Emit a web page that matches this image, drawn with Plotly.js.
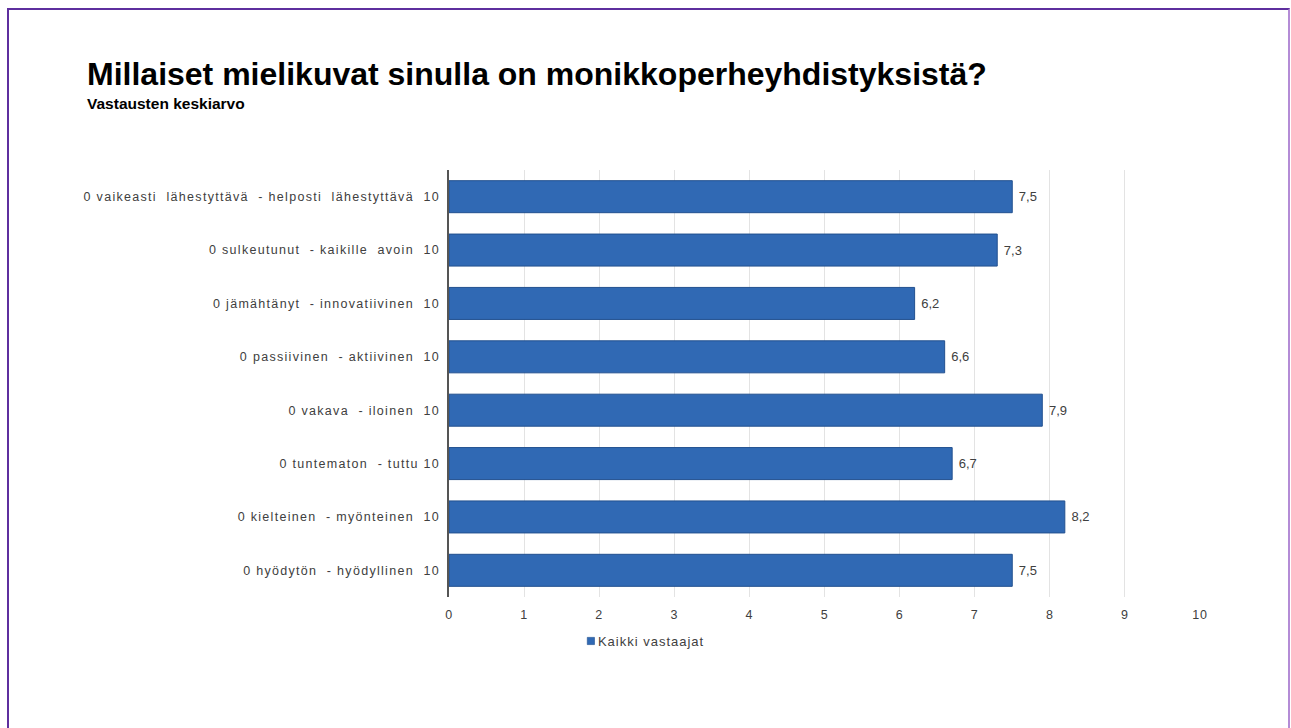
<!DOCTYPE html>
<html>
<head>
<meta charset="utf-8">
<script src="https://cdn.plot.ly/plotly-3.0.1.min.js"></script>
<style>
  html, body { margin: 0; padding: 0; background: #fff; overflow: hidden; }
  #chart { position: absolute; left: 0; top: 0; width: 1291px; height: 728px; }
  #frame { position: absolute; left: 7px; top: 8px; width: 1279px; height: 740px;
           border-top: 2px solid #5E2F9E; border-left: 2px solid #5E2F9E; border-right: 2px solid #B48CD6;
           pointer-events: none; }
  .ytick text { letter-spacing: 1.3px; }
  .xtick text { letter-spacing: 0.8px; }
  .legendtext { letter-spacing: 1px; }
  .textpoint text { letter-spacing: 1px; }
  .legend .legendpoints path { transform: translate(33px, 0px) scale(0.6); }
</style>
</head>
<body>
<div id="chart"></div>
<div id="frame"></div>
<script>
const categories = [
  "0 vaikeasti\u00a0 lähestyttävä\u00a0 - helposti\u00a0 lähestyttävä\u00a0 10",
  "0 sulkeutunut\u00a0 - kaikille\u00a0 avoin\u00a0 10",
  "0 jämähtänyt\u00a0 - innovatiivinen\u00a0 10",
  "0 passiivinen\u00a0 - aktiivinen\u00a0 10",
  "0 vakava\u00a0 - iloinen\u00a0 10",
  "0 tuntematon\u00a0 - tuttu 10",
  "0 kielteinen\u00a0 - myönteinen\u00a0 10",
  "0 hyödytön\u00a0 - hyödyllinen\u00a0 10"
];
const values = [7.5, 7.3, 6.2, 6.6, 7.9, 6.7, 8.2, 7.5];
const seriesName = "Kaikki vastaajat";
const titleText = "Millaiset mielikuvat sinulla on monikkoperheyhdistyksistä?";
const subtitleText = "Vastausten keskiarvo";

const trace = {
  type: "bar",
  orientation: "h",
  y: categories,
  x: values,
  name: seriesName,
  width: 0.6,
  marker: { color: "#3069B4", line: { color: "#22508F", width: 1 } },
  texttemplate: "\u00a0%{x:.1f}",
  textposition: "outside",
  cliponaxis: false,
  textfont: { family: "Liberation Sans, Arial, sans-serif", size: 13, color: "#404040" },
  showlegend: true,
  hoverinfo: "x+y"
};

const layout = {
  width: 1291,
  height: 728,
  margin: { l: 449, r: 91, t: 170, b: 131 },
  paper_bgcolor: "#ffffff",
  plot_bgcolor: "#ffffff",
  separators: ", ",
  font: { family: "Liberation Sans, Arial, sans-serif", size: 12, color: "#404040" },
  xaxis: {
    range: [0, 10],
    dtick: 1,
    tick0: 0,
    showgrid: true,
    gridcolor: "#e3e3e3",
    gridwidth: 1,
    zeroline: false,
    showline: false,
    ticks: "",
    ticklabelstandoff: 8,
    tickfont: { size: 12.5, color: "#404040" },
    fixedrange: true
  },
  yaxis: {
    autorange: "reversed",
    showline: true,
    linecolor: "#555555",
    linewidth: 1.5,
    ticks: "",
    showgrid: false,
    ticksuffix: " ",
    tickfont: { size: 12.5, color: "#404040" },
    fixedrange: true
  },
  showlegend: true,
  legend: {
    orientation: "h",
    x: 0.145, xanchor: "left",
    y: -0.068, yanchor: "top",
    font: { size: 13, color: "#404040" },
    bgcolor: "rgba(0,0,0,0)"
  },
  annotations: [
    {
      text: "<b>" + titleText + "</b>",
      xref: "paper", yref: "paper",
      x: -0.4847, y: 1.224,
      xanchor: "left", yanchor: "middle",
      showarrow: false,
      font: { family: "Liberation Sans, Arial, sans-serif", size: 32, color: "#000000" }
    },
    {
      text: "<b>" + subtitleText + "</b>",
      xref: "paper", yref: "paper",
      x: -0.4847, y: 1.155,
      xanchor: "left", yanchor: "middle",
      showarrow: false,
      font: { family: "Liberation Sans, Arial, sans-serif", size: 15.5, color: "#000000" }
    }
  ]
};

Plotly.newPlot("chart", [trace], layout, { displayModeBar: false });
</script>
</body>
</html>
